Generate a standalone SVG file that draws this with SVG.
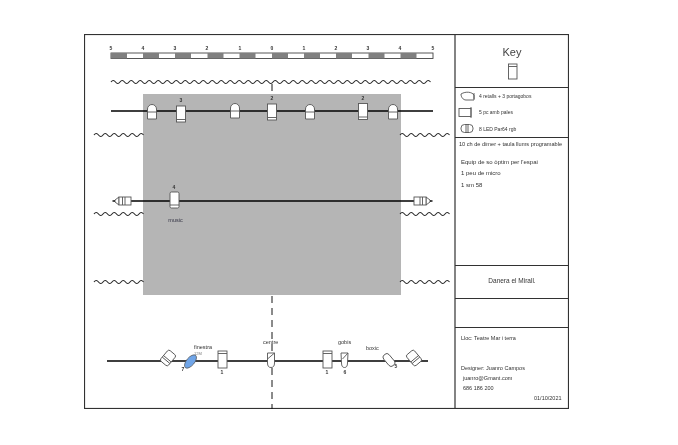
<svg xmlns="http://www.w3.org/2000/svg" width="678" height="445" viewBox="0 0 678 445">
<style>
text{font-family:"Liberation Sans",Arial,sans-serif;fill:#333}
.f{fill:#fff;stroke:#555;stroke-width:.9}
.fr{fill:none;stroke:#333;stroke-width:1.2}
.pipe{fill:none;stroke:#000;stroke-width:1.4}
.w{fill:none;stroke:#222;stroke-width:1.1}
.n{font-size:5px;text-anchor:middle;font-weight:bold}
.s{font-size:5.500px}
.m{font-size:6px}
.b{fill:#fff;stroke:#444;stroke-width:.9}
</style>
<defs>
<filter id="soft" x="0" y="0" width="100%" height="100%"><feGaussianBlur stdDeviation="0.45"/></filter>
<path id="sw" class="w" d="M0 0q2.200-3 4.500 0t4.500 0t4.500 0t4.500 0t4.500 0t4.500 0t4.500 0t4.500 0t4.500 0t4.500 0t4.500 0"/>
<g id="par"><path class="f" d="M-4.500 7V-3A4.500 4.500 0 0 1 4.500-3V7Z"/><path class="f" d="M-4.500 0H4.500"/><path d="M-2.800 -1V-3A2.800 2.800 0 0 1 2.800-3V-1Z" fill="#fff" stroke="none"/></g>
<g id="pc"><rect class="f" x="-4.500" y="-8" width="9" height="16"/><path class="f" d="M-4.500 5.500H4.500"/></g>
<g id="led"><path class="f" d="M-6 -4L-10 -1V1L-6 4Z"/><rect class="f" x="-6" y="-4" width="12" height="8"/><path class="f" d="M-2.500-4V4M0-4V4"/><path class="pipe" d="M-10 0H-12.500"/></g>
</defs>
<rect width="678" height="445" fill="#fff"/>
<g filter="url(#soft)">
<g id="frame">
<rect class="fr" x="84.500" y="34.500" width="484" height="374"/>
<path class="fr" d="M455 34.500V408.500M455 87.500H568M455 137.500H568M455 265.500H568M455 298.500H568M455 327.500H568"/>
</g>
<rect id="stage" x="143" y="94" width="258" height="201" fill="#b5b5b5"/>
<g id="scale">
<rect class="b" x="111" y="53" width="322" height="5.500"/>
<path fill="#808080" d="M111 53h16v5.500h-16zM143 53h16v5.500h-16zM175 53h16v5.500h-16zM207.500 53h16v5.500h-16zM239.500 53h16v5.500h-16zM272 53h16v5.500h-16zM304 53h16v5.500h-16zM336 53h16v5.500h-16zM368.500 53h16v5.500h-16zM400.500 53h16v5.500h-16z"/>
<g class="n"><text x="111" y="50">5</text><text x="143" y="50">4</text><text x="175" y="50">3</text><text x="207" y="50">2</text><text x="240" y="50">1</text><text x="272" y="50">0</text><text x="304" y="50">1</text><text x="336" y="50">2</text><text x="368" y="50">3</text><text x="400" y="50">4</text><text x="433" y="50">5</text></g>
</g>
<g id="curtains">
<path class="w" d="M111 82q2.200-3 4.500 0t4.500 0t4.500 0t4.500 0t4.500 0t4.500 0t4.500 0t4.500 0t4.500 0t4.500 0t4.500 0t4.500 0t4.500 0t4.500 0t4.500 0t4.500 0t4.500 0t4.500 0t4.500 0t4.500 0t4.500 0t4.500 0t4.500 0t4.500 0t4.500 0t4.500 0t4.500 0t4.500 0t4.500 0t4.500 0t4.500 0t4.500 0t4.500 0t4.500 0t4.500 0t4.500 0t4.500 0t4.500 0t4.500 0t4.500 0t4.500 0t4.500 0t4.500 0t4.500 0t4.500 0t4.500 0t4.500 0t4.500 0t4.500 0t4.500 0t4.500 0t4.500 0t4.500 0t4.500 0t4.500 0t4.500 0t4.500 0t4.500 0t4.500 0t4.500 0t4.500 0t4.500 0t4.500 0t4.500 0t4.500 0t4.500 0t4.500 0t4.500 0t4.500 0t4.500 0t4.500 0"/>
<use href="#sw" x="94" y="135"/><use href="#sw" x="400" y="135"/>
<use href="#sw" x="94" y="214"/><use href="#sw" x="400" y="214"/>
<use href="#sw" x="94" y="282"/><use href="#sw" x="400" y="282"/>
</g>
<g id="connectors">
<path class="pipe" d="M111 111H433M131 201H414M107 361H428"/>
<path d="M272 296V409M272 84V92" fill="none" stroke="#111" stroke-width="1" stroke-dasharray="7 5"/>
</g>
<g id="bar1">
<use href="#par" x="152" y="112"/><use href="#pc" x="181" y="114"/><use href="#par" x="235" y="111"/><use href="#pc" x="272" y="112"/><use href="#par" x="310" y="112"/><use href="#pc" x="363" y="111.500"/><use href="#par" x="393" y="112"/>
<text class="n" x="181" y="102">3</text><text class="n" x="272" y="100">2</text><text class="n" x="363" y="100">2</text>
</g>
<g id="bar2">
<use href="#led" x="125" y="201"/><use href="#led" transform="translate(420 201) scale(-1 1)"/>
<rect class="f" x="170" y="192" width="9" height="16" rx="1.500"/><path class="f" d="M170 205H179"/>
<text class="n" x="174" y="189">4</text><text class="s" x="175.500" y="222" text-anchor="middle" style="fill:#334">music</text>
</g>
<g id="bar3">
<g transform="translate(168 358) rotate(40)"><rect class="f" x="-5" y="-7" width="10" height="14" rx="2"/><path class="f" d="M-5 1H5M-5 3H5"/></g>
<g transform="translate(190.500 361.500) rotate(40)"><ellipse cx="0" cy="0" rx="4" ry="8" fill="#6fa5e8" stroke="#555" stroke-width=".7"/></g>
<text class="n" x="183" y="371">7</text>
<text class="s" x="194" y="349">finestra</text><text x="194" y="355" font-size="4" style="fill:#777">12M</text>
<rect class="f" x="218" y="351" width="9" height="17"/><path class="f" d="M218 353.500H227"/>
<text class="n" x="222" y="374">1</text>
<text class="s" x="263" y="344">centre</text>
<g transform="translate(271 360)"><path class="f" d="M-3.500-7H3.500V3A3.500 4.500 0 0 1-3.500 3Z"/><path class="f" d="M-3.500-1L3.500-7"/></g>
<rect class="f" x="323" y="351" width="9" height="17"/><path class="f" d="M323 353.500H332"/>
<text class="n" x="327" y="374">1</text>
<g transform="translate(344.500 360)"><path class="f" d="M-3.500-7H3.500L3 3A3 4.500 0 0 1-3 3Z"/><path class="f" d="M-2-1L3.500-7"/></g>
<text class="n" x="345" y="374">6</text>
<text class="s" x="338" y="344">gobis</text>
<text class="s" x="366" y="350">boxic</text>
<g transform="translate(389 360) rotate(-40)"><rect class="f" x="-3.500" y="-7" width="7" height="14" rx="3"/></g>
<text class="n" x="396" y="368">5</text>
<g transform="translate(414 358) rotate(-40)"><rect class="f" x="-5" y="-7" width="10" height="14" rx="2"/><path class="f" d="M-5 1H5M-5 3H5"/></g>
</g>
<g id="key">
<text x="512" y="56" font-size="11" text-anchor="middle" style="fill:#444">Key</text>
<g><rect class="f" x="508.500" y="64" width="8.500" height="15"/><path class="f" d="M508.500 66.500H517"/></g>
<g><path class="f" d="M461 94C466 91 472 92 474 95L474 100H466C463 100 461 97 461 94ZM474 93V99"/><text x="479" y="98" font-size="5">4 retalls + 3 portagobos</text></g>
<g><rect class="f" x="459" y="108.500" width="12" height="8"/><path class="f" d="M471 107V118"/><text x="479" y="114" font-size="5">5 pc amb pales</text></g>
<g><rect class="f" x="461" y="124.500" width="12" height="8" rx="3.500"/><path class="f" d="M466 124.500V132.500M468 124.500V132.500"/><text x="479" y="130.500" font-size="5">8 LED Par64 rgb</text></g>
<text x="459" y="146" font-size="5.600">10 ch de dimer + taula llums programable</text>
<text class="m" x="461" y="164">Equip de so òptim per l'espai</text>
<text class="m" x="461" y="175">1 peu de micro</text>
<text class="m" x="461" y="187">1 sm 58</text>
<text x="512" y="283" font-size="6.500" text-anchor="middle">Danera el Mirall.</text>
<text class="s" x="461" y="340">Lloc: Teatre Mar i terra</text>
<text class="s" x="461" y="370">Designer: Juanro Campos</text>
<text class="s" x="463" y="380">juanro@Gmant.com</text>
<text class="s" x="463" y="390">686 186 200</text>
<text class="s" x="534" y="400">01/10/2021</text>
</g>
</g>
</svg>
